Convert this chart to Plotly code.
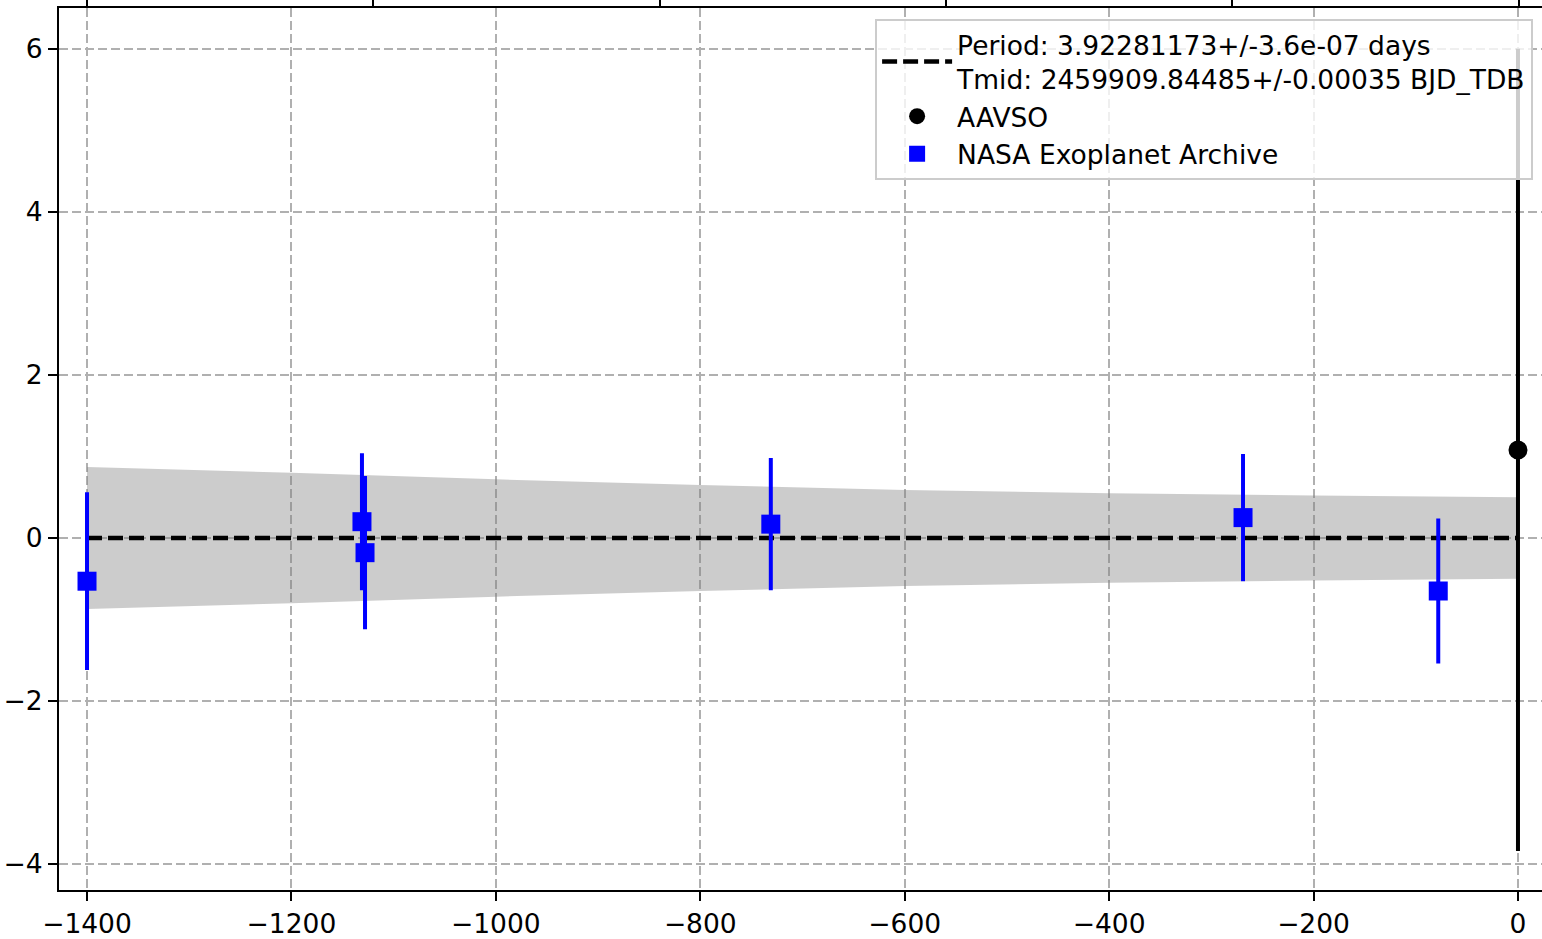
import plotly.graph_objects as go

# ---- data ----
nasa_epoch = [-1400, -1131, -1128, -731, -269, -78]
nasa_oc = [-0.53, 0.20, -0.18, 0.17, 0.25, -0.65]
nasa_err = [1.09, 0.84, 0.94, 0.81, 0.78, 0.89]

aavso_epoch = [0]
aavso_oc = [1.08]
aavso_err = [4.92]

band_epoch = [-1400, -1200, -1000, -800, -600, -400, -200, 0]
band_upper = [0.87, 0.80, 0.72, 0.65, 0.59, 0.55, 0.52, 0.50]
band_lower = [-0.87, -0.80, -0.72, -0.65, -0.59, -0.55, -0.52, -0.50]

fit_epoch = [-1400, 0]
fit_oc = [0, 0]

x_ticks = [-1400, -1200, -1000, -800, -600, -400, -200, 0]
x_ticktext = ["\u22121400", "\u22121200", "\u22121000", "\u2212800", "\u2212600", "\u2212400", "\u2212200", "0"]
y_ticks = [-4, -2, 0, 2, 4, 6]
y_ticktext = ["\u22124", "\u22122", "0", "2", "4", "6"]
top_ticks = [-1400, -1119.9, -839.4, -559.9, -279.5, 0.7]

fit_label = "Period: 3.92281173+/-3.6e-07 days<br>Tmid: 2459909.84485+/-0.00035 BJD_TDB"

XR = [-1427.4, 23.5]
YR = [-4.317, 6.50]

fig = go.Figure()

# uncertainty band
fig.add_trace(go.Scatter(
    x=band_epoch + band_epoch[::-1],
    y=band_upper + band_lower[::-1],
    fill="toself", fillcolor="rgba(128,128,128,0.4)",
    line=dict(width=0), mode="lines", showlegend=False, hoverinfo="skip"))

# fit line
fig.add_trace(go.Scatter(
    x=fit_epoch, y=fit_oc, mode="lines", name=fit_label,
    line=dict(color="black", width=4.5, dash="15px,6px")))

# AAVSO
fig.add_trace(go.Scatter(
    x=aavso_epoch, y=aavso_oc, mode="markers", name="AAVSO",
    marker=dict(color="black", symbol="circle", size=19),
    error_y=dict(type="data", array=aavso_err, visible=True,
                 color="black", thickness=4, width=0)))

# NASA
fig.add_trace(go.Scatter(
    x=nasa_epoch, y=nasa_oc, mode="markers", name="NASA Exoplanet Archive",
    marker=dict(color="blue", symbol="square", size=19),
    error_y=dict(type="data", array=nasa_err, visible=True,
                 color="blue", thickness=4, width=0)))

# invisible trace to activate top axis
fig.add_trace(go.Scatter(x=[XR[0]], y=[0], xaxis="x2", mode="markers",
                         marker=dict(opacity=0), showlegend=False, hoverinfo="skip"))

font = dict(family="DejaVu Sans", size=26.5, color="black")

fig.update_layout(
    width=1542, height=939,
    margin=dict(l=59, r=0, t=7, b=46),
    paper_bgcolor="white", plot_bgcolor="white",
    font=font,
    xaxis=dict(range=XR, tickvals=x_ticks, ticktext=x_ticktext,
               showgrid=True, gridcolor="#b0b0b0", gridwidth=2, griddash="9px,4px",
               zeroline=False, showline=True, linecolor="black", linewidth=2,
               ticks="outside", ticklen=9, tickwidth=2, tickcolor="black",
               tickfont=font),
    xaxis2=dict(range=XR, overlaying="x", side="top", tickvals=top_ticks,
                showticklabels=False, showgrid=False, zeroline=False,
                showline=True, linecolor="black", linewidth=2,
                ticks="outside", ticklen=8, tickwidth=2, tickcolor="black"),
    yaxis=dict(range=YR, tickvals=y_ticks, ticktext=y_ticktext,
               showgrid=True, gridcolor="#b0b0b0", gridwidth=2, griddash="9px,4px",
               zeroline=False, showline=True, linecolor="black", linewidth=2,
               ticks="outside", ticklen=9, tickwidth=2, tickcolor="black",
               tickfont=font),
    legend=dict(x=0.994, y=0.988, xanchor="right", yanchor="top",
                bgcolor="rgba(255,255,255,0.8)", bordercolor="#cccccc", borderwidth=2,
                font=font, tracegroupgap=0, itemwidth=70),
)

fig.write_html("out.html", config={"displayModeBar": False},
               post_script="document.body.style.margin='0';document.body.style.overflow='hidden';")
